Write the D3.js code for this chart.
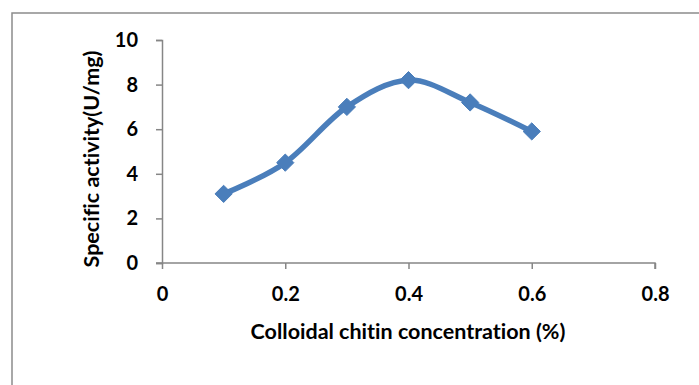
<!DOCTYPE html>
<html>
<head>
<meta charset="utf-8">
<script src="https://cdn.jsdelivr.net/npm/d3@7"></script>
<style>
  body { margin: 0; background: #fff; }
  text { font-family: Lato, "Open Sans", sans-serif; font-weight: bold; fill: #000; font-variant-ligatures: none; }
</style>
</head>
<body>
<div id="chart"></div>
<script>
"use strict";

// chart data
let concentration = [0.1, 0.2, 0.3, 0.4, 0.5, 0.6];
let activity = [3.1, 4.5, 7.0, 8.2, 7.2, 5.9];
let xTicks = [0, 0.2, 0.4, 0.6, 0.8];
let yTicks = [0, 2, 4, 6, 8, 10];

let width = 699,
    height = 385;

let svg = d3.select('#chart').append('svg')
  .attr('width', width)
  .attr('height', height);

// outer chart frame (runs off right and bottom)
svg.append('rect')
  .attr('x', 12).attr('y', 13)
  .attr('width', 700).attr('height', 400)
  .attr('fill', 'none')
  .attr('stroke', '#8c8c8c')
  .attr('stroke-width', 1.5);

let xScale = d3.scaleLinear().domain([0, 0.8]).range([162, 655]);
let yScale = d3.scaleLinear().domain([0, 10]).range([263, 40]);

let axisColor = '#868686';

// y axis
let yAxis = svg.append('g')
  .attr('transform', 'translate(' + xScale(0) + ',0)')
  .call(d3.axisLeft(yScale).tickValues(yTicks).tickSize(6).tickPadding(18).tickFormat(d3.format('d')));

// x axis
let xAxis = svg.append('g')
  .attr('transform', 'translate(0,' + yScale(0) + ')')
  .call(d3.axisBottom(xScale).tickValues(xTicks).tickSize(6).tickPadding(18)
    .tickFormat(function(d) { return d === 0 ? '0' : String(d); }));

[xAxis, yAxis].forEach(function(ax) {
  ax.select('.domain').attr('stroke', axisColor).attr('stroke-width', 1.5);
  ax.selectAll('.tick line').attr('stroke', axisColor).attr('stroke-width', 1.5);
  ax.selectAll('.tick text').style('font-size', '20px').style('font-family', 'Lato, sans-serif').style('font-weight', 'bold');
});
// x axis line starts at the y axis tick length
xAxis.select('.domain').attr('d', 'M' + (xScale(0) - 6) + ',0H' + xScale(0.8) + 'V6');

// axis titles
svg.append('text')
  .attr('x', 408).attr('y', 339)
  .attr('text-anchor', 'middle')
  .style('font-size', '21.5px')
  .text('Colloidal chitin concentration (%)');

svg.append('text')
  .attr('transform', 'translate(99,159) rotate(-90)')
  .attr('text-anchor', 'middle')
  .style('font-size', '21.5px')
  .text('Specific activity(U/mg)');

// smoothed line
let points = concentration.map(function(c, i) { return [c, activity[i]]; });

let line = d3.line()
  .x(function(d) { return xScale(d[0]); })
  .y(function(d) { return yScale(d[1]); })
  .curve(d3.curveCardinal.tension(0));

svg.append('path')
  .datum(points)
  .attr('d', line)
  .attr('fill', 'none')
  .attr('stroke', '#4a7ebb')
  .attr('stroke-width', 5.5)
  .attr('stroke-linejoin', 'round');

// diamond markers
svg.selectAll('.marker').data(points)
  .enter().append('path')
    .attr('class', 'marker')
    .attr('d', d3.symbol().type(d3.symbolDiamond2).size(190))
    .attr('transform', function(d) {
      return 'translate(' + xScale(d[0]) + ',' + yScale(d[1]) + ')';
    })
    .attr('fill', '#4a7ebb')
    .attr('stroke', '#4a7ebb')
    .attr('stroke-width', 1);
</script>
</body>
</html>
